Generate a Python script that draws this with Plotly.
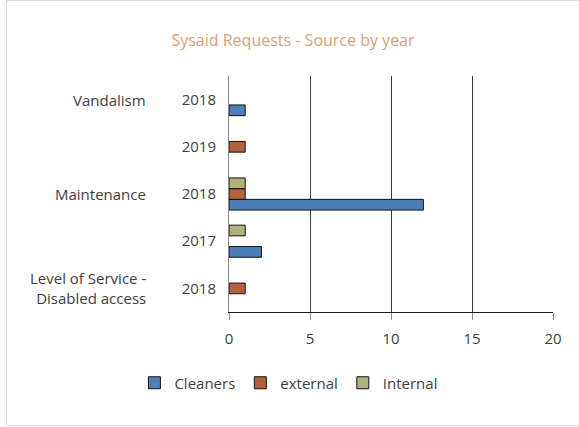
import plotly.graph_objects as go

# Request counts by category / year / source
groups = ["Level of Service -<br>Disabled access", "Maintenance", "Maintenance", "Maintenance", "Vandalism"]
years = ["2018", "2017", "2018", "2019", "2018"]
cleaners = [0, 2, 12, 0, 1]
external = [1, 0, 1, 1, 0]
internal = [0, 1, 1, 0, 0]

series = [
    ("Cleaners", cleaners, "#4f7fb8"),
    ("external", external, "#b5603c"),
    ("Internal", internal, "#b0b17c"),
]

FONT = "Open Sans"
TEXT = "#404040"

W, H = 579, 427
L, R, T, B = 229, 26, 76, 115
plot_w = W - L - R
plot_h = H - T - B

pos = list(range(len(years)))

fig = go.Figure()
for name, vals, color in series:
    fig.add_trace(go.Bar(
        name=name,
        orientation="h",
        y=pos,
        x=[v if v else None for v in vals],
        marker=dict(color=color, line=dict(color="#111111", width=1)),
    ))

# outer category labels, centred on the rows they span
annotations = []
seen = []
for g in groups:
    if g not in seen:
        seen.append(g)
for g in seen:
    idx = [i for i, gg in enumerate(groups) if gg == g]
    annotations.append(dict(
        text=g, xref="paper", yref="y",
        x=(148 - L) / plot_w, y=sum(idx) / len(idx),
        xanchor="right", yanchor="middle", align="right",
        showarrow=False, font=dict(family=FONT, size=15, color=TEXT),
    ))

fig.update_layout(
    width=W, height=H,
    margin=dict(l=L, r=R, t=T, b=B),
    paper_bgcolor="white", plot_bgcolor="white",
    barmode="group", bargap=0.32, bargroupgap=0,
    title=dict(text="Sysaid Requests - Source by year",
               x=293 / W, xanchor="center", xref="container",
               y=1 - 40 / H, yanchor="middle", yref="container",
               font=dict(family=FONT, size=16, color="#d9a079")),
    font=dict(family=FONT, size=15, color=TEXT),
    showlegend=True,
    legend=dict(orientation="h", xref="container", yref="container",
                x=0.499, xanchor="center", y=1 - 383 / H, yanchor="middle",
                font=dict(family=FONT, size=15, color=TEXT),
                traceorder="normal", itemwidth=30),
    annotations=annotations,
    shapes=[dict(type="rect", xref="paper", yref="paper",
                 x0=(6.5 - L) / plot_w, x1=(640 - L) / plot_w,
                 y0=(T + plot_h - 425.5) / plot_h, y1=(T + plot_h - 0.5) / plot_h,
                 line=dict(color="#d9d9d9", width=1), fillcolor="rgba(0,0,0,0)",
                 layer="below")],
)

fig.update_xaxes(
    range=[0, 20], dtick=5, tick0=0,
    showgrid=True, gridcolor="#3a3a3a", gridwidth=1,
    zeroline=False,
    showline=True, linecolor="#1a1a1a", linewidth=1,
    ticks="outside", ticklen=7, tickcolor="#8c8c8c",
    ticklabelstandoff=6,
    tickfont=dict(family=FONT, size=15, color=TEXT),
    fixedrange=True,
)
fig.update_yaxes(
    range=[-0.5, len(years) - 0.5],
    tickvals=pos, ticktext=years,
    showgrid=False, zeroline=False,
    showline=True, linecolor="#8c8c8c", linewidth=1,
    ticks="", ticklabelstandoff=9,
    tickfont=dict(family=FONT, size=15, color=TEXT),
    fixedrange=True,
)

fig.write_html("out.html")
